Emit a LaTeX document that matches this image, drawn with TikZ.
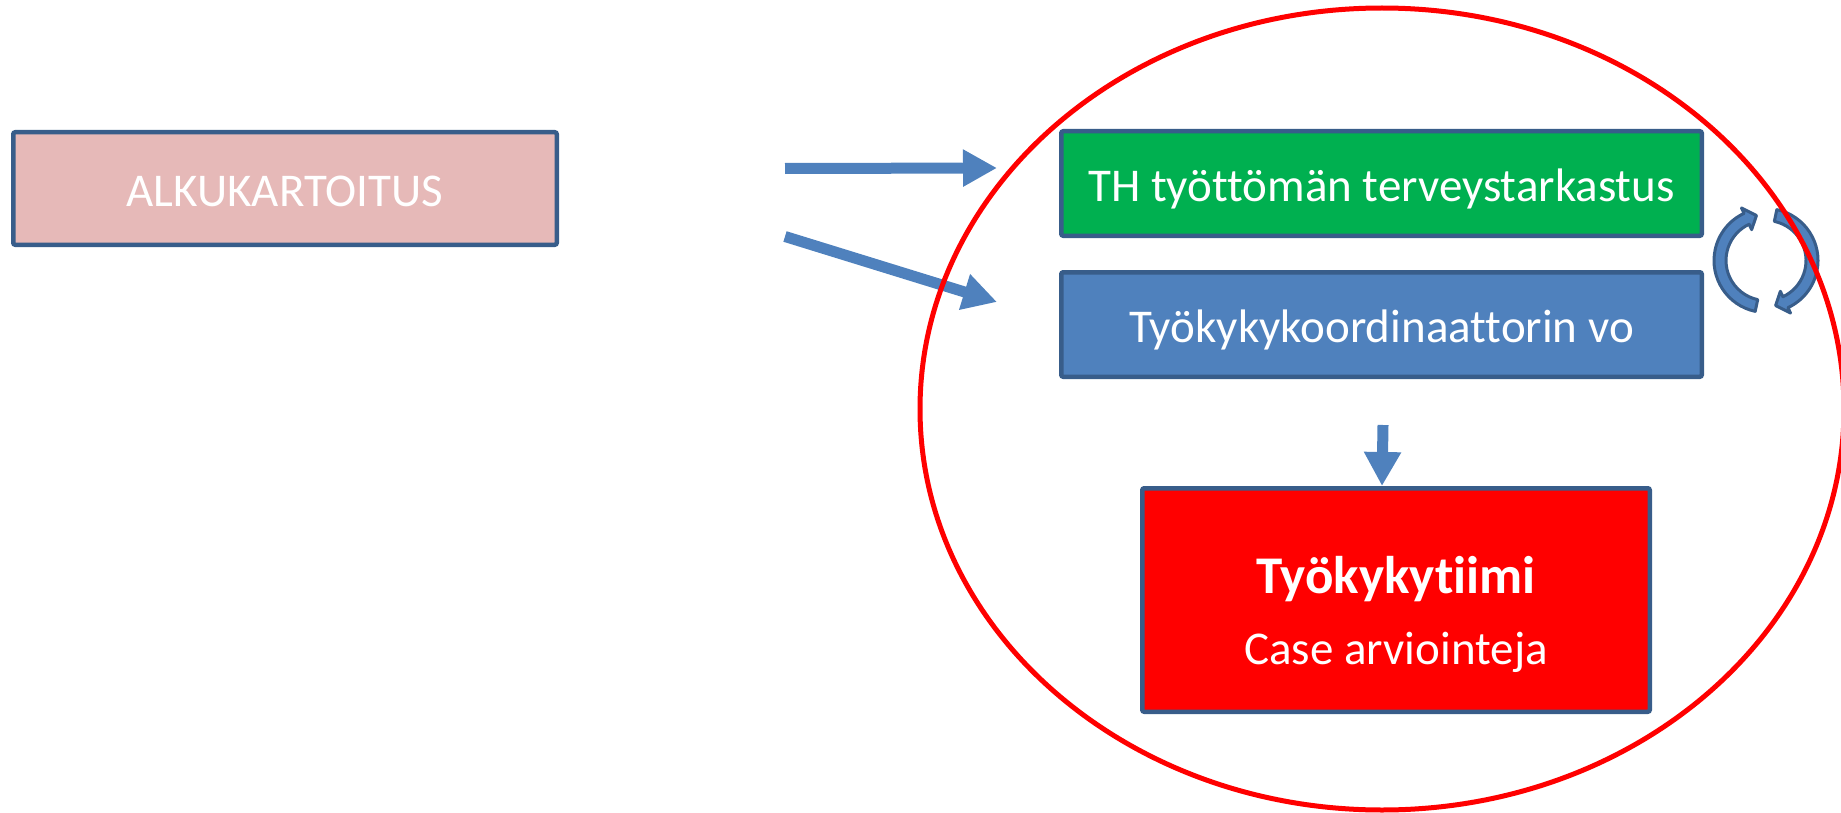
\documentclass[tikz,border=0pt]{standalone}
\usepackage{fontspec}
\setmainfont{Carlito}[Ligatures=NoCommon]
\usepackage{xcolor}
\usetikzlibrary{arrows.meta,calc}

\definecolor{rajaus}{HTML}{385D8A}
\definecolor{nuolisin}{HTML}{4F81BD}
\definecolor{alkupun}{HTML}{E6B9B8}
\definecolor{thvihr}{HTML}{00B050}
\definecolor{tiimipun}{HTML}{FF0000}

\begin{document}
\begin{tikzpicture}[x=0.5pt, y=-0.5pt,
    laatikko/.style={draw=rajaus, line width=2.25pt, rounded corners=1pt, inner sep=0pt,
        text=white, font=\fontsize{23.5pt}{28pt}\selectfont, text height=17.5pt, text depth=0pt},
    nuoli/.style={draw=nuolisin, line width=5.5pt, -{Triangle[length=17pt,width=17.5pt]}},
    kierto/.style={draw=rajaus, fill=nuolisin, line width=1.5pt, line join=round}]
    \useasboundingbox (0,0) rectangle (1841,813);
    % laatikot
    \node[laatikko, fill=alkupun, minimum width=271.75pt, minimum height=56.25pt] (alku) at (285,188.5) {ALKUKARTOITUS};
    \node[laatikko, fill=thvihr, minimum width=320.25pt, minimum height=52.25pt] (th) at (1381.5,183.5) {TH työttömän terveystarkastus};
    \node[laatikko, fill=nuolisin, minimum width=320.25pt, minimum height=52.25pt] (vo) at (1381.5,324.5) {Työkykykoordinaattorin vo};
    \node[laatikko, fill=tiimipun, minimum width=253.75pt, minimum height=111.75pt] (tiimi) at (1396,600) {};
    \node[text=white, font=\bfseries\fontsize{26.5pt}{30pt}\selectfont, anchor=base] (tiimiotsikko) at ($(tiimi.center)+(0,-7)$) {Työkykytiimi};
    \node[text=white, font=\fontsize{23.5pt}{28pt}\selectfont, anchor=base] (tiimiteksti) at ($(tiimi.center)+(0,64)$) {Case arviointeja};
    % nuolet
    \coordinate (h1) at (785,168.5);
    \coordinate (h2) at (997,168);
    \coordinate (d1) at (785,236.5);
    \coordinate (d2) at (997,302);
    \coordinate (v1) at (1383,425);
    \coordinate (v2) at (1382,486);
    \draw[nuoli] (h1) -- (h2);
    \draw[nuoli] (d1) -- (d2);
    \draw[nuoli] (v1) -- (v2);
    % kiertonuolet
    \coordinate (kk) at (1766,260.5);
    \draw[kierto] ($(kk)+(102:52)$) arc[start angle=102, end angle=245, radius=52]
        -- ($(kk)+(245:58)$) -- ($(kk)+(258:46)$) -- ($(kk)+(245:34)$) -- ($(kk)+(245:40)$)
        arc[start angle=245, end angle=102, radius=40] -- cycle;
    \draw[kierto] ($(kk)+(-78:52)$) arc[start angle=-78, end angle=65, radius=52]
        -- ($(kk)+(65:58)$) -- ($(kk)+(78:46)$) -- ($(kk)+(65:34)$) -- ($(kk)+(65:40)$)
        arc[start angle=65, end angle=-78, radius=40] -- cycle;
    % soikio
    \coordinate (sk) at (1382,409);
    \draw[tiimipun, line width=2.5pt] (sk) ellipse [x radius=462, y radius=401];
\end{tikzpicture}
\end{document}
